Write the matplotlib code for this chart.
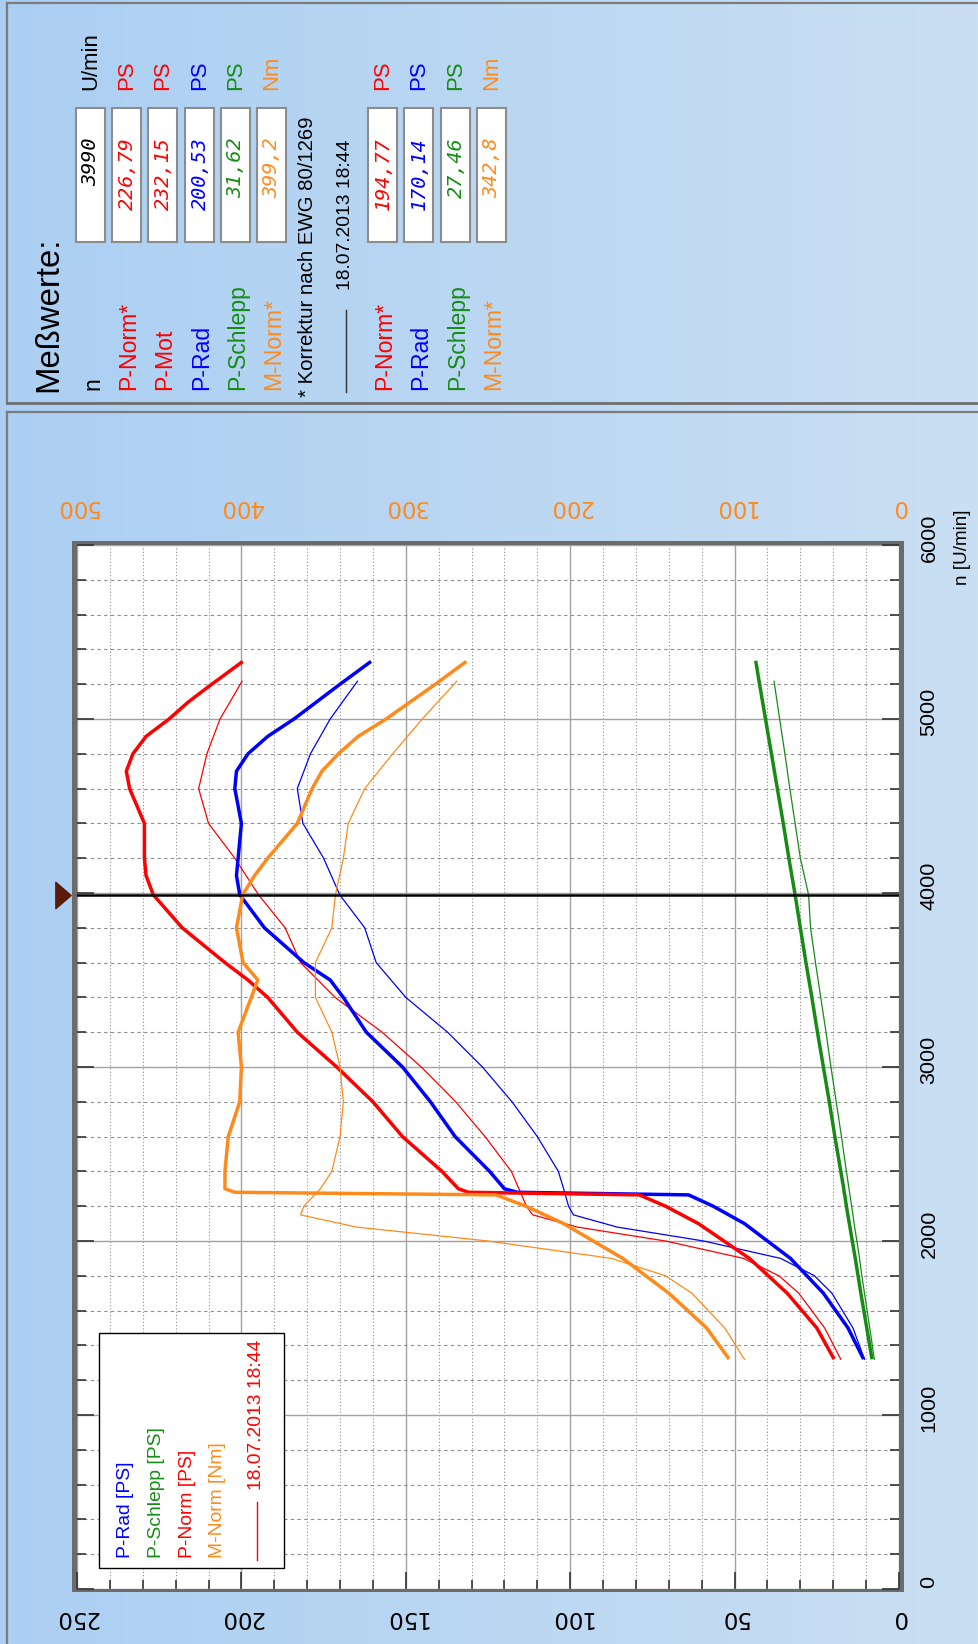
"""
Leistungsprüfstand: Meßwerte und Kurven (Bild ist um 90° gedreht).
Waagrecht: Leistung [PS] (0 rechts), senkrecht: Drehzahl n [U/min].
"""
import numpy as np
import matplotlib
matplotlib.use("Agg")
import matplotlib.pyplot as plt
from matplotlib.colors import LinearSegmentedColormap
from matplotlib.patches import Rectangle
from matplotlib.path import Path
from matplotlib.ticker import MultipleLocator
from matplotlib import font_manager as fm

plt.rcParams["font.family"] = ["Liberation Sans", "DejaVu Sans"]

# ---------------------------------------------------------------
# 1. Daten
# ---------------------------------------------------------------
# aktuelle Messung (dicke Linien)
RPM_A = [1330, 1500, 1700, 1900, 2100, 2200, 2265, 2280, 2300, 2400, 2600, 2800,
         3000, 3200, 3400, 3500, 3600, 3800, 3990, 4100, 4200, 4400, 4600, 4700,
         4800, 4900, 5000, 5100, 5200, 5325]
P_NORM_A = [20, 25, 34, 45.5, 61, 71, 79, 131, 134, 139, 151, 160,
            171, 183, 192, 198, 205, 218, 226.8, 229, 229.5, 229.5, 234, 235,
            233, 229, 222, 216, 209, 200]
M_NORM_A = [104, 117, 140, 168, 204, 227, 245, 404, 410, 410, 408, 401,
            400, 402, 394, 390, 399, 403, 399.2, 392, 384, 366, 357, 351,
            341, 329, 312, 297, 282, 264]
P_RAD_A = [11, 15.5, 23, 33, 47, 56.5, 64, 116, 120, 124.5, 135, 142.5,
           151, 162, 169, 173, 181, 193, 200.5, 201.5, 201, 200, 202, 201.5,
           198, 192, 184, 177, 170, 161]
P_SCHLEPP_A = [8.3, 9.8, 11.6, 13.3, 15.1, 16.0, 16.5, 16.7, 16.8, 17.7, 19.5, 21.2,
               23.0, 24.8, 26.5, 27.4, 28.3, 30.0, 31.6, 32.6, 33.5, 35.2, 37.0, 37.9,
               38.8, 39.7, 40.6, 41.5, 42.4, 43.5]

# Vergleichsmessung 18.07.2013 18:44 (dünne Linien)
RPM_B = [1320, 1500, 1700, 1800, 1900, 2000, 2080, 2150, 2200, 2300, 2400, 2600,
         2800, 3000, 3200, 3400, 3600, 3800, 3990, 4200, 4400, 4600, 4800, 5000, 5217]
P_NORM_B = [17.7, 22.6, 30.5, 36.5, 47.3, 71, 97.8, 111.4, 113.3, 115.6, 117.9, 125.9,
            134.8, 145.3, 157.2, 171.5, 182, 186.7, 194.8, 202, 210, 213, 210.5, 206.5, 199.8]
M_NORM_B = [94, 106, 126, 142, 175, 250, 330, 364, 362, 352, 345, 340,
            338, 340, 345, 355, 355, 345, 342.8, 338, 335, 325, 308, 290, 269]
P_RAD_B = [10.5, 14, 20.4, 25.7, 36, 59.4, 85.7, 99, 100.5, 102, 103.6, 110,
           117.7, 126.7, 137.3, 150, 159, 162.5, 170.1, 175, 181.3, 183, 179, 173, 164.7]
P_SCHLEPP_B = [7.5, 8.9, 10.5, 11.3, 12.0, 12.8, 13.5, 14.0, 14.4, 15.2, 16.0, 17.5,
               19.1, 20.7, 22.2, 23.8, 25.4, 26.9, 27.5, 30.0, 31.6, 33.2, 34.7, 36.3, 38.0]

CURSOR_RPM = 3990

PS_TICKS = [0, 50, 100, 150, 200, 250]
NM_TICKS = [0, 100, 200, 300, 400, 500]
N_TICKS = [0, 1000, 2000, 3000, 4000, 5000, 6000]

ROT = "#ff0000"
BLAU = "#0000ff"
GRUEN = "#168c16"
ORANGE = "#ff8a1c"

PANEL_LABELS = ["n", "P-Norm*", "P-Mot", "P-Rad", "P-Schlepp", "M-Norm*"]
PANEL_VALUES = ["3990", "226,79", "232,15", "200,53", "31,62", "399,2"]
PANEL_UNITS = ["U/min", "PS", "PS", "PS", "PS", "Nm"]
PANEL_COLORS = ["black", ROT, ROT, BLAU, GRUEN, ORANGE]

CMP_LABELS = ["P-Norm*", "P-Rad", "P-Schlepp", "M-Norm*"]
CMP_VALUES = ["194,77", "170,14", "27,46", "342,8"]
CMP_UNITS = ["PS", "PS", "PS", "Nm"]
CMP_COLORS = [ROT, BLAU, GRUEN, ORANGE]

LEGEND_LABELS = ["P-Rad [PS]", "P-Schlepp [PS]", "P-Norm [PS]", "M-Norm [Nm]"]
LEGEND_COLORS = [BLAU, GRUEN, ROT, ORANGE]
VERGLEICH = "18.07.2013 18:44"

# ---------------------------------------------------------------
# 2. Schriften: schmale Schrift für die senkrechten Texte, falls vorhanden
# ---------------------------------------------------------------
names = {f.name for f in fm.fontManager.ttflist}
if "Liberation Sans Narrow" in names:
    VFAM, VS = ["Liberation Sans Narrow", "DejaVu Sans"], 1.25
else:
    VFAM, VS = ["Liberation Sans", "DejaVu Sans"], 1.06

W, H = 979, 1644
fig = plt.figure(figsize=(W / 100, H / 100), dpi=100)

# Hintergrund (Verlauf) + Rahmen, Koordinaten in Pixeln
bg = fig.add_axes([0, 0, 1, 1], zorder=-10)
bg.imshow(np.linspace(0, 1, 256).reshape(1, -1), aspect="auto",
          cmap=LinearSegmentedColormap.from_list("bg", ["#abcff3", "#cadff2"]),
          extent=[0, W, H, 0])
bg.set_xlim(0, W)
bg.set_ylim(H, 0)
bg.axis("off")
rand = dict(color="#7c7c7c", lw=1.6)
bg.plot([7, W], [3, 3], **rand)
bg.plot([7, 7], [3, 403], **rand)
bg.plot([7, W], [403, 403], color="#6e6e6e", lw=2)
bg.plot([7, W], [412, 412], **rand)
bg.plot([7, 7], [412, H], **rand)
bg.add_patch(Rectangle((72, 541), 832, 1051, facecolor="#6b6b6b", edgecolor="none"))

# ---------------------------------------------------------------
# 3. Diagramm
# ---------------------------------------------------------------
ax = fig.add_axes([77 / W, 1 - 1589 / H, 822 / W, 1044 / H])
ax.set_facecolor("white")
ax.set_xlim(250, 0)
ax.set_ylim(0, 6000)
for sp in ax.spines.values():
    sp.set_visible(False)

ax.xaxis.set_major_locator(MultipleLocator(50))
ax.xaxis.set_minor_locator(MultipleLocator(10))
ax.yaxis.set_major_locator(MultipleLocator(1000))
ax.yaxis.set_minor_locator(MultipleLocator(200))
ax.tick_params(which="both", direction="in", top=True, right=True, left=True, bottom=True,
               labelbottom=False, labelleft=False, colors="#333333", width=1.2)
ax.tick_params(which="major", length=12)
ax.tick_params(which="minor", length=6.5)
ax.grid(which="major", color="#a2a2a2", lw=1.0, ls="-")
ax.xaxis.grid(True, which="minor", color="#8e8e8e", lw=0.8, ls=(0, (1, 2)))
ax.yaxis.grid(True, which="minor", color="#8e8e8e", lw=0.8, ls=(0, (3, 3)))
ax.set_axisbelow(True)

ax2 = ax.twiny()
ax2.set_xlim(500, 0)
ax2.tick_params(top=False, labeltop=False, bottom=False, labelbottom=False)
for sp in ax2.spines.values():
    sp.set_visible(False)

# Vergleichsmessung (dünn)
ax.plot(P_SCHLEPP_B, RPM_B, color=GRUEN, lw=0.9)
ax.plot(P_RAD_B, RPM_B, color=BLAU, lw=0.9)
ax.plot(P_NORM_B, RPM_B, color=ROT, lw=0.9)
ax2.plot(M_NORM_B, RPM_B, color=ORANGE, lw=0.9)
# aktuelle Messung (dick)
ax.plot(P_SCHLEPP_A, RPM_A, color=GRUEN, lw=2.5)
ax.plot(P_RAD_A, RPM_A, color=BLAU, lw=2.5)
ax.plot(P_NORM_A, RPM_A, color=ROT, lw=2.5)
ax2.plot(M_NORM_A, RPM_A, color=ORANGE, lw=2.5)

# Cursor
ax2.axhline(CURSOR_RPM, color="black", lw=1.8)
tri = Path([(-0.58, -1), (0.58, 0), (-0.58, 1), (-0.58, -1)],
           [Path.MOVETO, Path.LINETO, Path.LINETO, Path.CLOSEPOLY])
ax.plot([-0.0165], [CURSOR_RPM], transform=ax.get_yaxis_transform(), marker=tri,
        markersize=19, color="#5a1a08", clip_on=False, zorder=5)

# Achsbeschriftungen
for v in PS_TICKS:
    ax.annotate(str(v), xy=(v, 0), xycoords=ax.get_xaxis_transform(),
                xytext=(0, -20.5), textcoords="offset points", ha="center", va="center",
                rotation=180, fontsize=16.5, family="DejaVu Sans", color="black")
for v in NM_TICKS:
    ax2.annotate(str(v), xy=(v, 1), xycoords=ax2.get_xaxis_transform(),
                 xytext=(0, 27.5), textcoords="offset points", ha="center", va="center",
                 rotation=180, fontsize=16.5, family="DejaVu Sans", color=ORANGE)
for v in N_TICKS:
    ax.annotate(str(v), xy=(1, v), xycoords=ax.get_yaxis_transform(),
                xytext=(21.6, 5), textcoords="offset points", ha="center", va="center",
                rotation=90, fontsize=14.6 * VS, family=VFAM, color="black")
ax.annotate("n [U/min]", xy=(1, 6000), xycoords=ax.get_yaxis_transform(),
            xytext=(45.5, -1.5), textcoords="offset points", ha="center", va="center",
            rotation=90, fontsize=12.8 * VS, family=VFAM, color="black")

# ---------------------------------------------------------------
# 4. Legende und Meßwerte-Tafel (Pixelkoordinaten)
# ---------------------------------------------------------------
ov = fig.add_axes([0, 0, 1, 1], zorder=10)
ov.set_xlim(0, W)
ov.set_ylim(H, 0)
ov.axis("off")
ov.patch.set_alpha(0)


def vtext(x, y, s, size, color="black", ha="left", **kw):
    ov.text(x, y, s, rotation=90, rotation_mode="anchor", ha=ha, va="center",
            fontsize=size, color=color, **({"family": VFAM} | kw))


ov.add_patch(Rectangle((99, 1333), 185, 235, facecolor="white", edgecolor="black", lw=1))
for x, lab, col in zip([125, 157, 188, 218], LEGEND_LABELS, LEGEND_COLORS):
    vtext(x, 1558, lab, 13.1 * VS, col)
ov.plot([257, 257], [1502, 1560], color=ROT, lw=1)
vtext(257, 1490, VERGLEICH, 13.1 * VS, ROT)

vtext(49, 392, "Meßwerte:", 22.3 * VS)
rows = [91, 127, 163, 200, 236, 272]
for x, lab, val, unit, col in zip(rows, PANEL_LABELS, PANEL_VALUES, PANEL_UNITS, PANEL_COLORS):
    vtext(x + 2, 390, lab, 15.6 * VS, col)
    ov.add_patch(Rectangle((x - 14.5, 108), 29, 134, facecolor="white",
                           edgecolor="#8c8c8c", lw=1.5))
    vtext(x, 137, val, 14.5, col, ha="right", family="DejaVu Sans Mono", style="italic")
    vtext(x, 90, unit, 15 * VS, col)

vtext(308, 397, "* Korrektur nach EWG 80/1269", 13.8 * VS)
ov.plot([346, 346], [310, 392], color="#333333", lw=1)
vtext(346, 290, VERGLEICH, 13.1 * VS)

rows_cmp = [383, 419, 456, 492]
for x, lab, val, unit, col in zip(rows_cmp, CMP_LABELS, CMP_VALUES, CMP_UNITS, CMP_COLORS):
    vtext(x + 2, 390, lab, 15.6 * VS, col)
    ov.add_patch(Rectangle((x - 14.5, 108), 29, 134, facecolor="white",
                           edgecolor="#8c8c8c", lw=1.5))
    vtext(x, 137, val, 14.5, col, ha="right", family="DejaVu Sans Mono", style="italic")
    vtext(x, 90, unit, 15 * VS, col)

fig.savefig("out.png", dpi=100)
